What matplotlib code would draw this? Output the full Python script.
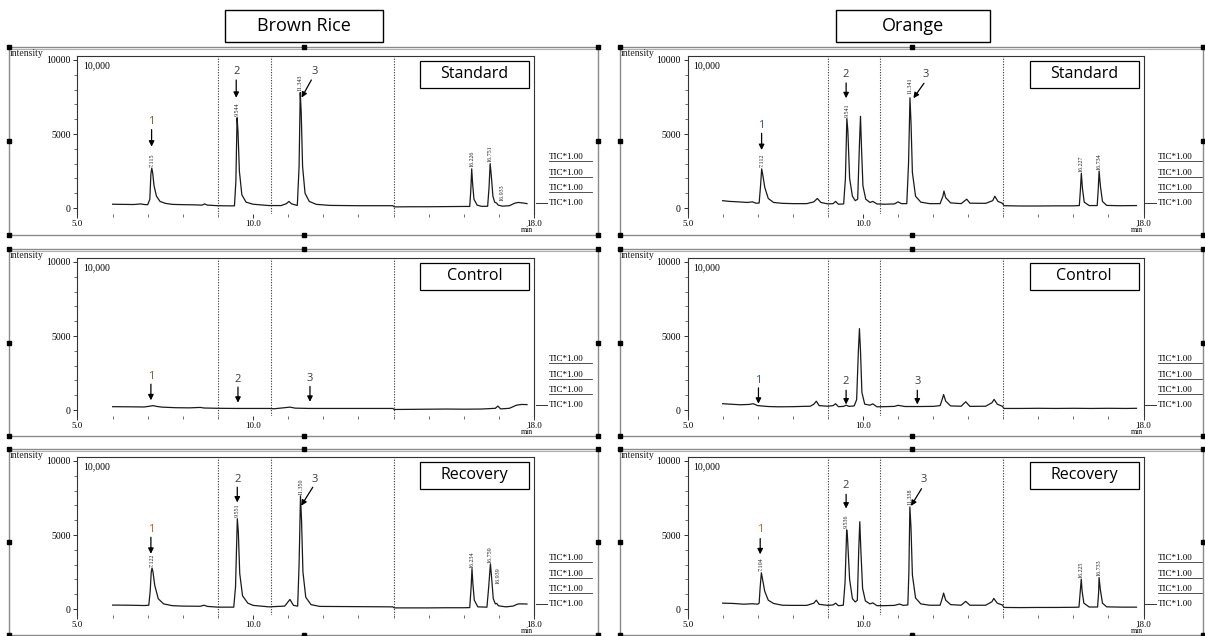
import matplotlib
matplotlib.use("Agg")
import matplotlib.pyplot as plt
from matplotlib.patches import Rectangle
from matplotlib.lines import Line2D
from matplotlib.ticker import FixedLocator, MultipleLocator

# chromatogram traces: (retention time [min], intensity)
BR_STD = [(6.0, 260), (6.3, 250), (6.6, 240), (6.8, 280), (6.9, 240), (7.0, 230), (7.06, 600), (7.09, 2300),
          (7.115, 2700), (7.14, 2400), (7.18, 1500), (7.25, 800), (7.35, 450), (7.5, 320), (7.7, 250), (8.0, 230),
          (8.3, 220), (8.55, 200), (8.62, 280), (8.7, 200), (9.0, 160), (9.3, 150), (9.47, 150), (9.51, 1800),
          (9.544, 6100), (9.57, 5200), (9.61, 2500), (9.68, 900), (9.8, 400), (10.0, 260), (10.3, 200), (10.45, 170),
          (10.8, 170), (10.95, 300), (11.02, 450), (11.1, 280), (11.26, 180), (11.31, 2800), (11.343, 7800),
          (11.37, 6500), (11.41, 2800), (11.48, 1000), (11.6, 450), (11.8, 250), (12.2, 180), (13.0, 160),
          (13.98, 160), (14.02, 80), (14.5, 90), (15.0, 90), (15.5, 100), (16.0, 110), (16.17, 110), (16.2, 1200),
          (16.226, 2650), (16.25, 1700), (16.29, 600), (16.38, 200), (16.5, 120), (16.68, 120), (16.72, 1400),
          (16.751, 3000), (16.78, 2300), (16.83, 800), (16.88, 400), (16.933, 340), (16.98, 200), (17.1, 130),
          (17.3, 160), (17.45, 330), (17.55, 380), (17.7, 340), (17.8, 300)]
BR_CTRL = [(6.0, 230), (6.5, 220), (6.9, 210), (7.05, 260), (7.15, 300), (7.25, 250), (7.4, 200), (7.8, 160),
           (8.2, 150), (8.5, 180), (8.6, 140), (9.0, 120), (9.5, 110), (10.0, 110), (10.45, 110), (10.6, 90),
           (10.9, 160), (11.05, 200), (11.2, 130), (11.6, 110), (12.5, 110), (13.98, 110), (14.02, 40), (14.5, 50),
           (15.0, 60), (15.5, 70), (16.0, 60), (16.5, 70), (16.9, 120), (16.97, 270), (17.05, 80), (17.3, 120),
           (17.5, 330), (17.65, 380), (17.8, 370)]
BR_REC = [(6.0, 270), (6.5, 260), (6.9, 240), (7.03, 260), (7.07, 1200), (7.1, 2500), (7.122, 2770), (7.15, 2500),
          (7.2, 1600), (7.3, 700), (7.45, 350), (7.7, 230), (8.0, 200), (8.5, 190), (8.6, 260), (8.7, 180),
          (9.0, 130), (9.45, 130), (9.5, 1500), (9.551, 6100), (9.58, 5200), (9.62, 2400), (9.7, 900), (9.85, 400),
          (10.0, 250), (10.45, 150), (10.9, 200), (11.05, 650), (11.15, 250), (11.27, 200), (11.31, 3000),
          (11.35, 7650), (11.38, 6000), (11.42, 2500), (11.5, 800), (11.65, 300), (11.9, 180), (13.98, 150),
          (14.02, 80), (14.5, 80), (15.0, 80), (15.5, 90), (16.0, 90), (16.17, 100), (16.21, 1500), (16.234, 2730),
          (16.26, 1700), (16.3, 600), (16.4, 150), (16.66, 130), (16.71, 1500), (16.759, 3050), (16.79, 2200),
          (16.84, 700), (16.9, 350), (16.939, 380), (16.99, 220), (17.2, 150), (17.4, 200), (17.55, 350),
          (17.7, 350), (17.8, 340)]
OR_STD = [(6.0, 500), (6.2, 450), (6.45, 420), (6.7, 380), (6.85, 420), (6.95, 330), (7.04, 340), (7.08, 1500),
          (7.112, 2650), (7.14, 2300), (7.2, 1400), (7.3, 650), (7.45, 380), (7.7, 320), (8.0, 300), (8.4, 300),
          (8.6, 420), (8.7, 650), (8.8, 380), (9.0, 280), (9.15, 300), (9.22, 450), (9.3, 260), (9.45, 280),
          (9.5, 2000), (9.541, 6050), (9.57, 5200), (9.62, 2000), (9.7, 800), (9.78, 500), (9.85, 600), (9.9, 4300),
          (9.93, 6200), (9.96, 4000), (10.0, 1500), (10.08, 600), (10.2, 380), (10.28, 450), (10.4, 280),
          (10.6, 260), (10.9, 280), (11.0, 420), (11.1, 300), (11.25, 300), (11.3, 3000), (11.341, 7450),
          (11.37, 5800), (11.41, 2400), (11.5, 800), (11.65, 400), (11.9, 300), (12.2, 300), (12.28, 800),
          (12.31, 1150), (12.36, 700), (12.5, 350), (12.8, 300), (12.96, 600), (13.05, 330), (13.5, 320),
          (13.7, 500), (13.76, 800), (13.85, 450), (13.98, 320), (14.02, 160), (14.5, 140), (15.0, 140),
          (15.5, 150), (16.0, 150), (16.17, 170), (16.2, 1200), (16.227, 2350), (16.26, 1300), (16.31, 400),
          (16.45, 170), (16.68, 170), (16.71, 1300), (16.734, 2500), (16.77, 1500), (16.83, 450), (16.95, 180),
          (17.3, 160), (17.8, 170)]
OR_CTRL = [(6.0, 430), (6.2, 400), (6.5, 360), (6.75, 380), (6.87, 430), (7.0, 300), (7.3, 240), (7.6, 220),
           (8.0, 230), (8.3, 250), (8.5, 260), (8.6, 400), (8.67, 600), (8.75, 300), (9.0, 260), (9.15, 300),
           (9.22, 430), (9.3, 230), (9.45, 250), (9.52, 330), (9.6, 250), (9.75, 280), (9.82, 700), (9.87, 4000),
           (9.9, 5500), (9.93, 4000), (9.97, 1200), (10.05, 400), (10.2, 330), (10.28, 420), (10.4, 220),
           (10.6, 230), (10.9, 250), (11.0, 320), (11.2, 240), (11.6, 240), (12.0, 250), (12.2, 300), (12.27, 800),
           (12.3, 1050), (12.36, 600), (12.5, 280), (12.8, 260), (12.93, 560), (13.05, 250), (13.5, 260),
           (13.68, 500), (13.74, 720), (13.83, 400), (13.98, 250), (14.02, 110), (14.5, 110), (15.0, 120),
           (15.5, 110), (16.0, 120), (16.5, 110), (17.0, 120), (17.5, 110), (17.8, 120)]
OR_REC = [(6.0, 400), (6.3, 380), (6.6, 330), (6.85, 360), (7.0, 330), (7.04, 400), (7.07, 1500), (7.104, 2450),
          (7.13, 2100), (7.2, 1200), (7.3, 600), (7.45, 380), (7.7, 260), (8.0, 250), (8.4, 250), (8.6, 400),
          (8.67, 600), (8.75, 320), (9.0, 250), (9.15, 280), (9.22, 400), (9.3, 230), (9.44, 260), (9.49, 1800),
          (9.536, 5350), (9.56, 4800), (9.62, 2000), (9.7, 700), (9.78, 480), (9.84, 600), (9.88, 4000),
          (9.91, 5900), (9.94, 4000), (9.99, 1400), (10.07, 550), (10.2, 350), (10.28, 420), (10.4, 230),
          (10.6, 230), (10.9, 250), (11.04, 340), (11.15, 250), (11.28, 280), (11.31, 2500), (11.338, 6900),
          (11.37, 5500), (11.41, 2300), (11.5, 750), (11.65, 350), (11.9, 260), (12.2, 260), (12.27, 800),
          (12.3, 1080), (12.36, 600), (12.5, 300), (12.8, 260), (12.93, 520), (13.05, 260), (13.5, 260),
          (13.68, 500), (13.73, 720), (13.83, 400), (13.98, 270), (14.02, 110), (14.5, 100), (15.0, 110),
          (15.5, 110), (16.0, 120), (16.16, 130), (16.19, 1000), (16.225, 2020), (16.25, 1200), (16.3, 400),
          (16.45, 140), (16.69, 140), (16.72, 1100), (16.733, 2130), (16.77, 1300), (16.83, 400), (16.95, 150),
          (17.4, 130), (17.8, 130)]

# retention time labels printed above peaks: (text, time, intensity of label foot)
BR_STD_RT = [("7.115", 7.115, 2800), ("9.544", 9.544, 6250), ("11.343", 11.343, 7900),
             ("16.226", 16.226, 2750), ("16.751", 16.751, 3100), ("16.933", 17.08, 450)]
BR_REC_RT = [("7.122", 7.122, 2850), ("9.551", 9.551, 6200), ("11.350", 11.35, 7700),
             ("16.234", 16.234, 2800), ("16.759", 16.759, 3100), ("16.939", 16.97, 1700)]
OR_STD_RT = [("7.112", 7.112, 2780), ("9.541", 9.541, 6170), ("11.341", 11.341, 7700),
             ("16.227", 16.227, 2420), ("16.734", 16.734, 2580)]
OR_REC_RT = [("7.104", 7.104, 2550), ("9.536", 9.536, 5450), ("11.338", 11.338, 7000),
             ("16.225", 16.225, 2130), ("16.733", 16.733, 2250)]

# compound markers: (number, text pos, arrow tail, arrow head)
BR_STD_ARR = [("1", (7.11, 5830), (7.11, 5300), (7.11, 4150)),
              ("2", (9.52, 9190), (9.52, 8650), (9.52, 7450)),
              ("3", (11.75, 9190), (11.66, 8650), (11.38, 7460))]
BR_CTRL_ARR = [("1", (7.09, 2260), (7.09, 1750), (7.09, 660)),
               ("2", (9.57, 2080), (9.57, 1550), (9.57, 500)),
               ("3", (11.62, 2120), (11.62, 1600), (11.62, 560))]
BR_REC_ARR = [("1", (7.09, 5370), (7.09, 4850), (7.09, 3735)),
              ("2", (9.55, 8770), (9.55, 8230), (9.55, 7200)),
              ("3", (11.75, 8770), (11.70, 8230), (11.37, 6980))]
OR_STD_ARR = [("1", (7.11, 5610), (7.11, 5050), (7.11, 3920)),
              ("2", (9.52, 9040), (9.52, 8450), (9.52, 7420)),
              ("3", (11.80, 9040), (11.74, 8430), (11.44, 7420))]
OR_CTRL_ARR = [("1", (7.02, 1990), (7.02, 1500), (7.02, 430)),
               ("2", (9.52, 1900), (9.52, 1340), (9.52, 380)),
               ("3", (11.55, 1900), (11.55, 1340), (11.55, 380))]
OR_REC_ARR = [("1", (7.07, 5350), (7.07, 4760), (7.07, 3700)),
              ("2", (9.52, 8360), (9.52, 7750), (9.52, 6790)),
              ("3", (11.72, 8720), (11.67, 8130), (11.37, 6965))]

SEGMENT_EDGES = [9.0, 10.5, 14.0]
TIC_LEVELS = [3450, 2370, 1350, 340]
SAMPLES = ["Brown Rice", "Orange"]
CONDITIONS = ["Standard", "Control", "Recovery"]

W, H = 1205, 636
fig = plt.figure(figsize=(W / 100, H / 100), dpi=100)
SERIF = "Liberation Serif"
SANS = "Open Sans"

PLOT_X = [(77.5, 534.0), (687.6, 1143.5)]
FRAME_X = [(9, 598), (620, 1203)]
ROW_TOP = [56, 258, 457]
FRAME_Y = [(47, 235), (249, 436), (449, 635)]
PH = 158


def fig_rect(x0, y0, x1, y1, **kw):
    r = Rectangle((x0 / W, 1 - y1 / H), (x1 - x0) / W, (y1 - y0) / H,
                  transform=fig.transFigure, fill=False, **kw)
    fig.add_artist(r)


def outer_frame(col, row):
    x0, x1 = FRAME_X[col]
    y0, y1 = FRAME_Y[row]
    fig_rect(x0, y0, x1, y1, ec="#8a8a8a", lw=1.0)
    fig.add_artist(Line2D([x0 / W, x1 / W], [1 - (y0 + 2) / H] * 2, color="#b0b0b0", lw=0.8))
    xm, ym = (x0 + x1) / 2, (y0 + y1) / 2
    hx = [x0, x1, x0, x1, x0, x1]
    hy = [y0, y0, y1, y1, ym, ym]
    fig.add_artist(Line2D([v / W for v in hx], [1 - v / H for v in hy], ls="none",
                          marker="s", ms=2.5, color="black"))
    fig.add_artist(Line2D([xm / W], [1 - y0 / H], ls="none", marker="s", ms=3, color="black"))
    fig.add_artist(Line2D([xm / W], [1 - y1 / H], ls="none", marker="s", ms=3, color="black"))
    fig.text((x0 + 1) / W, 1 - (y0 + 6) / H, "intensity", family=SERIF, fontsize=7,
             ha="left", va="center", color="#222222")


def panel(col, row, trace, rt_labels, markers, one_color):
    x0, x1 = PLOT_X[col]
    top = ROW_TOP[row]
    ax = fig.add_axes([x0 / W, 1 - (top + PH) / H, (x1 - x0) / W, PH / H])
    t = [p[0] for p in trace]
    y = [p[1] for p in trace]
    ax.plot(t, y, color="#1a1a1a", lw=0.9)
    ax.set_xlim(5, 18)
    ax.set_ylim(-400, 10270)
    for v in SEGMENT_EDGES:
        ax.axvline(v, color="#333333", ls=(0, (1, 1.4)), lw=0.8)

    for s in ["left", "top", "right"]:
        ax.spines[s].set_color("#333333")
        ax.spines[s].set_linewidth(0.8)
    ax.spines["bottom"].set_visible(False)
    ax.xaxis.set_major_locator(FixedLocator([5, 10, 18]))
    ax.xaxis.set_minor_locator(MultipleLocator(1))
    ax.set_xticklabels(["5.0", "10.0", "18.0"])
    ax.yaxis.set_major_locator(FixedLocator([0, 5000, 10000]))
    ax.yaxis.set_minor_locator(MultipleLocator(1000))
    ax.tick_params(axis="both", which="major", direction="out", length=3, width=0.7,
                   labelsize=7, pad=2, color="#333333")
    ax.tick_params(axis="x", which="major", labelsize=6.5, pad=1.2)
    ax.tick_params(axis="both", which="minor", direction="out", length=2, width=0.6, color="#555555")
    for lab in ax.get_xticklabels() + ax.get_yticklabels():
        lab.set_family(SERIF)
    ax.text(0.985, -0.103, "min", transform=ax.transAxes, family=SERIF, fontsize=5.5,
            ha="center", va="center")
    ax.text(0.012, 0.965, "10,000", transform=ax.transAxes, family=SERIF, fontsize=7,
            ha="left", va="top")

    # condition box
    ax.add_patch(Rectangle((0.75, 0.80), 0.24, 0.17, transform=ax.transAxes,
                           fc="white", ec="black", lw=0.9))
    ax.text(0.87, 0.885, CONDITIONS[row], transform=ax.transAxes, family=SANS,
            fontsize=11.5, ha="center", va="center")

    # TIC labels on the right
    tr = ax.get_yaxis_transform()
    for i, lv in enumerate(TIC_LEVELS):
        ax.text(1.032, lv, "TIC*1.00", transform=tr, family=SERIF, fontsize=6.5,
                ha="left", va="center", clip_on=False)
        if i < 3:
            ax.plot([1.032, 1.128], [lv - 280, lv - 280], transform=tr, color="#333333",
                    lw=0.6, clip_on=False)
    ax.plot([1.004, 1.028], [TIC_LEVELS[3], TIC_LEVELS[3]], transform=tr, color="#333333",
            lw=0.7, clip_on=False)

    for txt, rt, lv in rt_labels:
        ax.text(rt, lv, txt, rotation=90, family=SERIF, fontsize=4.3, ha="center",
                va="bottom", color="#222222")

    for i, (num, pos, tail, head) in enumerate(markers):
        c = one_color if i == 0 else "#3f3a36"
        ax.text(pos[0], pos[1], num, family=SANS, fontsize=8, ha="center", va="center", color=c)
        ax.annotate("", xy=head, xytext=tail,
                    arrowprops=dict(arrowstyle="-|>", color="black", lw=0.9,
                                    mutation_scale=8, shrinkA=0, shrinkB=0))
    return ax


for col in range(2):
    for row in range(3):
        outer_frame(col, row)

panel(0, 0, BR_STD, BR_STD_RT, BR_STD_ARR, "#8a5a2b")
panel(0, 1, BR_CTRL, [], BR_CTRL_ARR, "#8a5a2b")
panel(0, 2, BR_REC, BR_REC_RT, BR_REC_ARR, "#c0651a")
panel(1, 0, OR_STD, OR_STD_RT, OR_STD_ARR, "#2e5c8a")
panel(1, 1, OR_CTRL, [], OR_CTRL_ARR, "#2e5c8a")
panel(1, 2, OR_REC, OR_REC_RT, OR_REC_ARR, "#c0651a")

# sample title boxes
for (x0, x1), name in zip([(225, 383), (836, 990)], SAMPLES):
    fig_rect(x0, 10, x1, 42, ec="black", lw=1.0)
    fig.text((x0 + x1) / 2 / W, 1 - 26 / H, name, family=SANS, fontsize=13,
             ha="center", va="center")

fig.savefig("out.png", dpi=100)
plt.close(fig)
